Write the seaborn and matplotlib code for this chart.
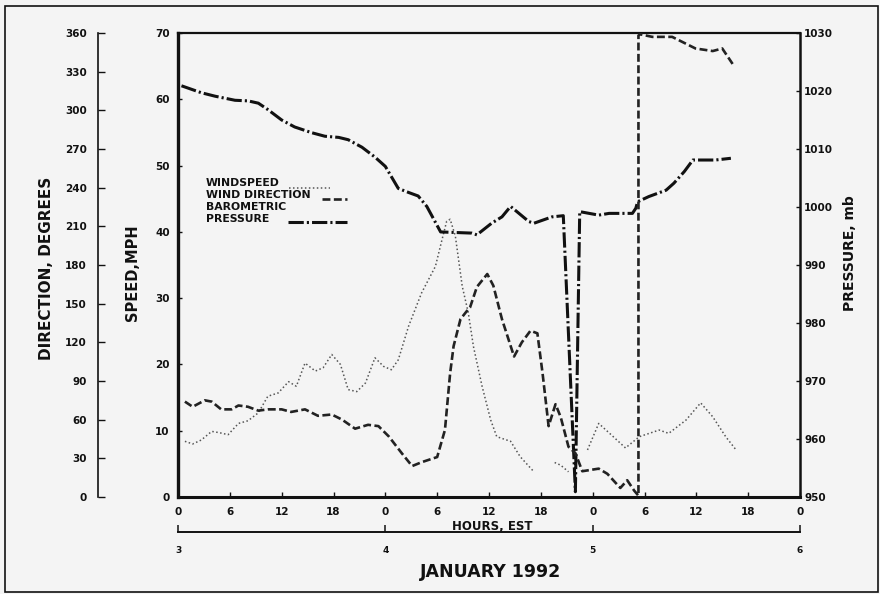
import numpy as np
import pandas as pd
import matplotlib
matplotlib.use("Agg")
import matplotlib.pyplot as plt
from matplotlib.lines import Line2D
from matplotlib.patches import Rectangle
import seaborn as sns

# ---- axis scales -------------------------------------------------------
hour_ticks = list(range(0, 73, 6))
hour_labels = [str(h % 24) for h in hour_ticks]
day_ticks = [3, 4, 5, 6]
day_labels = ["3", "4", "5", "6"]
speed_ticks = list(range(0, 71, 10))
dir_ticks = list(range(0, 361, 30))
pres_ticks = list(range(950, 1031, 10))

# ---- observations (hours since 0 EST, 3 January 1992) -------------------
# wind speed, mph (NaN marks a gap in the record)
speed_hours = [0.8, 1.7, 2.7, 3.9, 4.8, 5.8, 7.0, 8.1, 9.3, 10.4, 11.6, 12.8,
               13.7, 14.7, 15.9, 16.8, 17.8, 18.8, 19.7, 20.7, 21.7, 22.8,
               23.8, 24.7, 25.5, 26.7, 28.2, 29.8, 30.5, 31.1, 31.5, 32.1,
               32.9, 33.6, 34.2, 35.2, 36.2, 36.9, 38.5, 39.6, 41.2,
               42.4,
               43.6, 44.3, 45.2,
               46.3,
               47.4, 48.7, 50.3, 51.8, 53.4, 55.7, 56.8, 58.8, 60.5, 61.9,
               63.4, 64.6]
speed_mph = [8.4, 8.0, 8.6, 9.9, 9.7, 9.4, 11.1, 11.5, 12.7, 15.2, 15.7, 17.4,
             16.7, 20.2, 19.0, 19.5, 21.5, 20.0, 16.2, 15.9, 17.2, 21.0,
             19.7, 19.2, 20.7, 25.8, 30.8, 34.8, 38.5, 41.6, 41.9, 39.4,
             31.8, 27.8, 22.7, 16.7, 11.6, 9.1, 8.4, 6.1, 3.8,
             np.nan,
             5.2, 4.8, 3.8,
             np.nan,
             7.1, 11.1, 9.2, 7.4, 9.1, 10.1, 9.6, 11.6, 14.2, 12.1,
             9.1, 7.1]

# wind direction, degrees
dir_hours = [0.8, 1.7, 3.1, 3.9, 5.0, 6.2, 7.0, 8.1, 9.3, 10.4, 12.0, 13.1,
             14.7, 16.2, 17.8, 19.0, 20.5, 22.0, 23.2, 24.4, 25.9, 27.1,
             28.2, 30.0, 30.9, 31.5, 31.9, 32.7, 33.4, 33.8, 34.6, 35.8,
             36.5, 37.5, 38.9, 39.8, 40.8, 41.6, 42.2, 42.9, 43.7, 44.3,
             45.2, 46.0, 46.8, 48.7, 49.7, 51.2, 52.0, 52.8, 53.3, 53.3,
             53.5, 54.9, 57.2, 58.4, 59.9, 61.9, 63.0, 64.2]
dir_deg = [74, 70, 75, 74, 68, 68, 71, 70, 67, 68, 68, 66,
           68, 63, 64, 60, 53, 56, 55, 47, 34, 24,
           27, 31, 52, 96, 117, 138, 144, 147, 163, 173,
           164, 138, 109, 120, 129, 127, 96, 55, 72, 62,
           39, 34, 20, 22, 18, 7, 13, 5, 1, 358,
           359, 357, 357, 353, 348, 346, 348, 336]

# barometric pressure, mb
pres_hours = [0.4, 2.7, 4.3, 6.6, 8.1, 9.3, 10.4, 12.0, 13.5, 15.5, 17.0,
              18.6, 19.7, 21.3, 22.8, 24.0, 25.5, 26.7, 27.8, 28.8, 30.4,
              34.0, 34.6, 36.3, 37.5, 38.5, 40.6, 41.2, 43.3, 44.6, 46.0,
              46.5, 48.7, 49.9, 52.6, 53.0, 53.2, 54.5, 56.5, 57.4, 58.6,
              59.6, 60.7, 62.2, 64.0]
pres_mb = [1020.9, 1019.7, 1019.1, 1018.4, 1018.3, 1017.9, 1016.8, 1015.0,
           1013.8, 1012.8, 1012.2, 1012.0, 1011.6, 1010.3, 1008.6, 1007.0,
           1003.2, 1002.5, 1001.9, 1000.1, 995.7, 995.5, 995.2, 997.2,
           998.3, 1000.1, 997.5, 997.2, 998.3, 998.5, 950.9, 999.2, 998.6,
           998.9, 998.9, 999.8, 1000.9, 1001.8, 1002.9, 1004.1, 1006.1,
           1008.1, 1008.1, 1008.1, 1008.4]


def segmented(x, y, name):
    """Split a series at NaN gaps into numbered segments."""
    df = pd.DataFrame({"hour": x, name: y})
    df["seg"] = df[name].isna().cumsum()
    return df.dropna().reset_index(drop=True)


speed_df = segmented(speed_hours, speed_mph, "mph")
dir_df = segmented(dir_hours, dir_deg, "deg")
pres_df = segmented(pres_hours, pres_mb, "mb")

# ---- styling -----------------------------------------------------------
sns.set_theme(style="white")
plt.rcParams["font.family"] = ["DejaVu Sans"]
plt.rcParams["font.weight"] = "bold"
BG = "#f4f4f4"
INK = "#111111"

SPEED_STYLE = dict(color="#555555", lw=1.1, linestyle=(0, (1, 1.6)))
DIR_STYLE = dict(color="#222222", lw=1.9, linestyle=(0, (3.0, 1.3)))
PRES_STYLE = dict(color=INK, lw=2.2, linestyle=(0, (5, 1.0, 0.7, 1.0)))

W, H = 880, 594
fig = plt.figure(figsize=(W / 100, H / 100), dpi=100, facecolor=BG)


def fx(px):
    return px / W


def fy(py):
    return 1 - py / H


left, right, top, bottom = 178, 800, 33, 497
ax = fig.add_axes([fx(left), fy(bottom), fx(right - left), (bottom - top) / H])
ax.set_facecolor(BG)

ax_p = ax.twinx()
ax_d = ax.twinx()

# wind speed (dotted)
sns.lineplot(data=speed_df, x="hour", y="mph", units="seg", estimator=None,
             sort=False, ax=ax, **SPEED_STYLE)
# wind direction (dashed)
sns.lineplot(data=dir_df, x="hour", y="deg", units="seg", estimator=None,
             sort=False, ax=ax_d, **DIR_STYLE)
# barometric pressure (dash-dot)
sns.lineplot(data=pres_df, x="hour", y="mb", units="seg", estimator=None,
             sort=False, ax=ax_p, **PRES_STYLE)

for a in (ax, ax_p, ax_d):
    a.set_xlim(0, 72)
    a.set_xlabel("")
    a.set_ylabel("")
    a.grid(False)

# speed axis (left spine of the box)
ax.set_ylim(0, 70)
ax.set_yticks(speed_ticks)
ax.set_yticklabels([str(v) for v in speed_ticks])
ax.set_xticks(hour_ticks)
ax.set_xticklabels(hour_labels)
ax.tick_params(axis="y", direction="in", length=3, width=1, pad=6,
               labelsize=7.5, colors=INK, left=True)
ax.tick_params(axis="x", direction="in", length=3.5, width=1, pad=7,
               labelsize=7.5, colors=INK, bottom=True)
for lab in ax.get_xticklabels() + ax.get_yticklabels():
    lab.set_fontweight("bold")
for side, lw in (("left", 2.4), ("bottom", 2.2), ("top", 1.6), ("right", 1.8)):
    ax.spines[side].set_visible(True)
    ax.spines[side].set_linewidth(lw)
    ax.spines[side].set_color(INK)

# pressure axis (right)
ax_p.set_ylim(950, 1030)
ax_p.set_yticks(pres_ticks)
ax_p.set_yticklabels([str(v) for v in pres_ticks])
ax_p.tick_params(axis="y", direction="in", length=3, width=1, pad=3,
                 labelsize=7.5, colors=INK, right=True)
for lab in ax_p.get_yticklabels():
    lab.set_fontweight("bold")
for s in ax_p.spines.values():
    s.set_visible(False)

# direction axis (detached spine further left)
ax_d.set_ylim(0, 360)
ax_d.set_yticks(dir_ticks)
ax_d.set_yticklabels([str(v) for v in dir_ticks])
ax_d.yaxis.set_ticks_position("left")
ax_d.yaxis.set_label_position("left")
for s in ax_d.spines.values():
    s.set_visible(False)
ax_d.spines["left"].set_visible(True)
ax_d.spines["left"].set_position(("axes", (98 - left) / (right - left)))
ax_d.spines["left"].set_linewidth(1.2)
ax_d.spines["left"].set_color(INK)
ax_d.tick_params(axis="y", direction="in", length=5, width=1, pad=8,
                 labelsize=7.5, colors=INK, left=True, right=False)
for lab in ax_d.get_yticklabels():
    lab.set_fontweight("bold")

# date axis below the hours
sec = ax.secondary_xaxis((bottom - 532) / (bottom - top),
                         functions=(lambda h: h / 24 + 3,
                                    lambda d: (d - 3) * 24))
sec.set_xticks(day_ticks)
sec.set_xticklabels(day_labels)
sec.tick_params(axis="x", direction="in", length=5, width=1.1, pad=10,
                labelsize=6.5, colors=INK)
for lab in sec.get_xticklabels():
    lab.set_fontweight("bold")
sec.spines["bottom"].set_linewidth(1.4)
sec.spines["bottom"].set_color(INK)

# axis titles
fig.text(fx(47), fy(268), "DIRECTION, DEGREES", rotation=90, ha="center",
         va="center", fontsize=11, fontweight="bold", color=INK)
fig.text(fx(132), fy(273), "SPEED,MPH", rotation=90, ha="center",
         va="center", fontsize=10.5, fontweight="bold", color=INK)
fig.text(fx(850), fy(253), "PRESSURE, mb", rotation=90, ha="center",
         va="center", fontsize=10, fontweight="bold", color=INK)
fig.text(fx(492), fy(526), "HOURS, EST", ha="center", va="center",
         fontsize=8.5, fontweight="bold", color=INK)
fig.text(fx(491), fy(572), "JANUARY 1992", ha="center", va="center",
         fontsize=12.5, fontweight="bold", color=INK)

# key
key = [
    ("WINDSPEED", 183.5, 289, 330, 188, SPEED_STYLE),
    ("WIND DIRECTION", 195.5, 322, 347, 199, DIR_STYLE),
    ("BAROMETRIC", 207.5, None, None, None, None),
    ("PRESSURE", 218.5, 288, 347, 222, PRES_STYLE),
]
for text, ty, x0, x1, ly, style in key:
    fig.text(fx(206), fy(ty), text, ha="left", va="center", fontsize=7.8,
             fontweight="bold", color=INK)
    if style is not None:
        fig.add_artist(Line2D([fx(x0), fx(x1)], [fy(ly), fy(ly)],
                              transform=fig.transFigure, **style))

# outer frame
fig.add_artist(Rectangle((fx(5), fy(592)), fx(873), (592 - 6) / H,
                         transform=fig.transFigure, fill=False,
                         edgecolor=INK, lw=1.2))

fig.savefig("out.png", dpi=100, facecolor=BG)
